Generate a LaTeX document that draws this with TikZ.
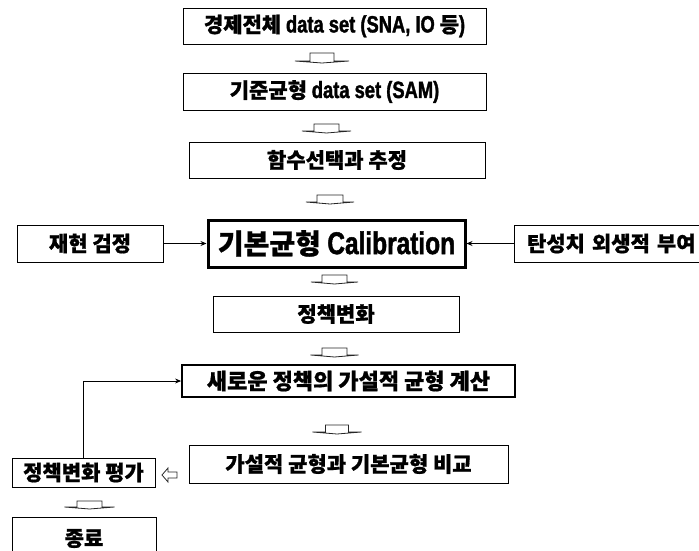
\documentclass[tikz,border=0pt]{standalone}
\usepackage{fontspec}
\setmainfont{Noto Sans CJK KR}[BoldFeatures={FakeBold=0.8}]
\newfontfamily\latn{Liberation Sans Bold}[FakeStretch=0.78, Scale=1.12, FakeBold=1.5]
\newcommand{\lt}[1]{{\latn\mdseries #1}}
\usetikzlibrary{arrows.meta}
\tikzset{
  box/.style={draw=black, line width=0.8pt, fill=white, inner sep=0pt, font=\fontsize{21}{21}\selectfont\bfseries},
  bigbox/.style={box, line width=3pt, font=\fontsize{28}{28}\selectfont\bfseries},
  midbox/.style={box, line width=1.8pt, font=\fontsize{22}{22}\selectfont\bfseries},
  conn/.style={draw=black, line width=0.8pt, -{Stealth[length=6pt,width=5pt]}},
  blk/.style={draw=black!85, line width=0.8pt, fill=white, line join=miter}
}
\newcommand{\blockdown}[5]{% cx, top, wing, stemhalf, winghalf
  \draw[blk] (#1-#4,#2) -- (#1+#4,#2) -- (#1+#4,#3) -- (#1+#5,#3) -- (#1,#3+2) -- (#1-#5,#3) -- (#1-#4,#3) -- cycle;}
\begin{document}
\begin{tikzpicture}[x=1pt,y=-1pt]
\useasboundingbox (0,0) rectangle (699,551);
\node[box, minimum width=303pt, minimum height=36pt] (b1) at (334.5,26) {경제전체 \lt{data set (SNA, IO} 등\lt{)}};
\node[box, minimum width=303pt, minimum height=37pt] (b2) at (334.5,91.5) {기준균형 \lt{data set (SAM)}};
\node[box, minimum width=296pt, minimum height=36pt] (b3) at (337,160) {함수선택과 추정};
\node[bigbox, minimum width=257pt, minimum height=47pt] (b4) at (336.5,243.5) {기본균형 \lt{Calibration}};
\node[box, minimum width=146pt, minimum height=37pt] (bl) at (90,243.5) {재현 검정};
\node[box, minimum width=191pt, minimum height=37pt, text width=191pt, align=left] (br) at (609.5,243.5) {\hspace*{13pt}탄성치 외생적 부여};
\node[box, minimum width=246pt, minimum height=36pt] (b5) at (336,314) {정책변화};
\node[midbox, minimum width=333pt, minimum height=32pt] (b6) at (348.5,381) {새로운 정책의 가설적 균형 계산};
\node[box, minimum width=319pt, minimum height=38pt] (b7) at (348.5,464) {가설적 균형과 기본균형 비교};
\node[box, minimum width=143pt, minimum height=29pt] (b8) at (83.5,472.5) {정책변화 평가};
\node[box, minimum width=144pt, minimum height=43pt] (b9) at (84,538.5) {종료};

\draw[conn] (bl.east) -- (b4.west);
\draw[conn] (br.west) -- (b4.east);
\draw[conn] (b8.north) |- (b6.west);

\blockdown{322}{53}{61}{12}{27}
\blockdown{326.5}{124}{131}{12.5}{24.5}
\blockdown{330}{195}{202}{13}{24}
\blockdown{334.5}{275}{282}{12.5}{23.5}
\blockdown{334.5}{348}{355}{12.5}{24}
\blockdown{337}{425}{432}{11.5}{24.5}
\blockdown{89.5}{501}{507}{12.5}{25}
% small hollow left arrow
\draw[blk] (162,475) -- (168,468) -- (168,472) -- (177,472) -- (177,478) -- (168,478) -- (168,482) -- cycle;
\end{tikzpicture}
\end{document}
